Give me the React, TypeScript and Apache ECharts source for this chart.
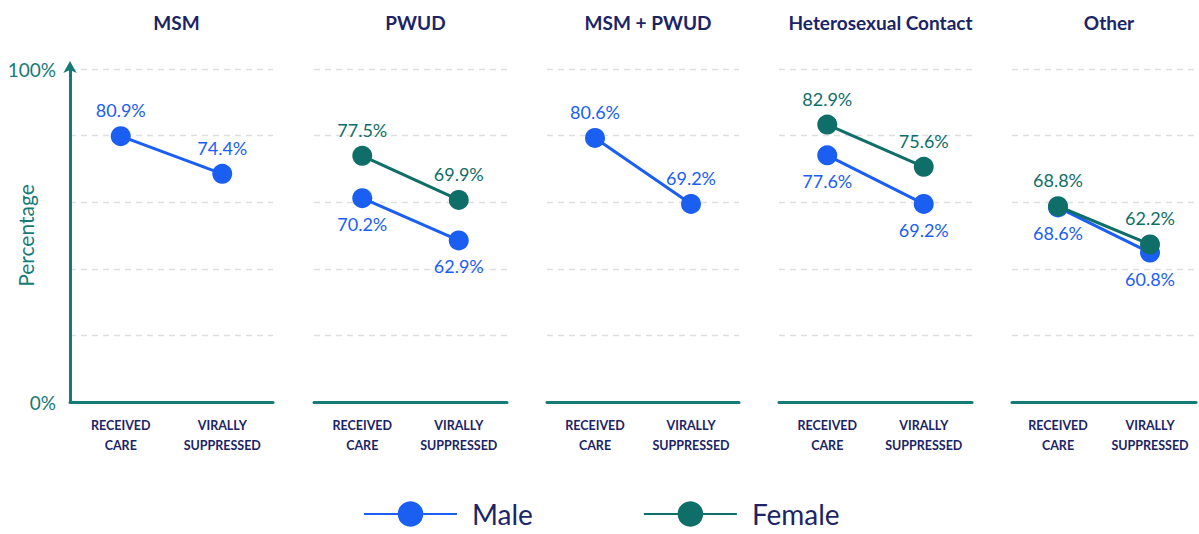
import React, { useEffect, useRef } from 'react';
import * as echarts from 'echarts';

// ---- data ----
const panelTitles = ['MSM', 'PWUD', 'MSM + PWUD', 'Heterosexual Contact', 'Other'];
const stages = ['RECEIVED\nCARE', 'VIRALLY\nSUPPRESSED'];
const maleMSM = [80.9, 74.4];
const malePWUD = [70.2, 62.9];
const maleMSMPWUD = [80.6, 69.2];
const maleHetero = [77.6, 69.2];
const maleOther = [68.6, 60.8];
const femalePWUD = [77.5, 69.9];
const femaleHetero = [82.9, 75.6];
const femaleOther = [68.8, 62.2];
const maleByPanel = [maleMSM, malePWUD, maleMSMPWUD, maleHetero, maleOther];
const femaleByPanel: (number[] | null)[] = [null, femalePWUD, null, femaleHetero, femaleOther];
const maleLabelBelow = [false, true, false, true, true];
const axisTickValues = [0, 100]; // only these carry labels

// ---- layout / style ----
const FONT = 'Lato, "Noto Sans", sans-serif';
const BLUE = '#1b5ef2';
const TEAL = '#0f6e68';
const AXIS_TEAL = '#167a78';
const NAVY = '#1b2466';
const GRID_TOP = 69;
const GRID_H = 333;
const panelBoxes = [
  { left: 70, width: 203 },
  { left: 314, width: 193 },
  { left: 547, width: 192 },
  { left: 779, width: 193 },
  { left: 1012, width: 184 },
];

export default function App() {
  const ref = useRef<HTMLDivElement>(null);
  useEffect(() => {
    document.body.style.margin = '0';
    const chart = echarts.init(ref.current!, null, { renderer: 'svg' });

    const grids = panelBoxes.map((b) => ({
      left: b.left,
      width: b.width,
      top: GRID_TOP,
      height: GRID_H,
      outerBoundsMode: 'none',
      containLabel: false,
    }));
    const titles = panelTitles.map((t, i) => ({
      text: t,
      left: panelBoxes[i].left + panelBoxes[i].width / 2,
      top: 8,
      textAlign: 'center',
      textStyle: { fontFamily: FONT, fontSize: 19, fontWeight: 'bold', color: NAVY },
    }));
    const xAxes = panelBoxes.map((_, i) => ({
      type: 'category',
      gridIndex: i,
      data: stages,
      axisLine: { show: true, lineStyle: { color: AXIS_TEAL, width: 3 } },
      axisTick: { show: false },
      axisLabel: {
        interval: 0,
        align: 'center',
        fontFamily: FONT,
        fontSize: 12.5,
        color: NAVY,
        lineHeight: 20,
        margin: 13,
        fontWeight: 'bold',
      },
    }));
    const yAxes: any[] = [];
    panelBoxes.forEach((_, i) => {
      yAxes.push({
        type: 'value',
        gridIndex: i,
        min: 0,
        max: 100,
        interval: 20,
        name: i === 0 ? 'Percentage' : '',
        nameLocation: 'middle',
        nameGap: 34,
        nameRotate: 90,
        nameMoveOverlap: false,
        nameTextStyle: { fontFamily: FONT, fontSize: 21, color: AXIS_TEAL },
        axisLine: {
          show: i === 0,
          symbol: ['none', 'arrow'],
          symbolSize: [10, 12],
          symbolOffset: [0, 8],
          lineStyle: { color: AXIS_TEAL, width: 3 },
        },
        axisTick: { show: false },
        axisLabel: {
          show: i === 0,
          margin: 14,
          fontFamily: FONT,
          fontSize: 19,
          color: AXIS_TEAL,
          formatter: (v: number) => (axisTickValues.includes(v) ? v + '%' : ''),
        },
        splitLine: { show: true, lineStyle: { color: '#dedede', type: [6, 5], width: 1.3 } },
      });
      yAxes.push({
        type: 'value',
        gridIndex: i,
        min: 35,
        max: 92.5,
        show: false,
        splitLine: { show: false },
      });
    });

    const mkSeries = (name: string, color: string, data: number[], i: number, below: boolean, z: number) => ({
      type: 'line',
      name,
      xAxisIndex: i,
      yAxisIndex: 2 * i + 1,
      data,
      symbol: 'circle',
      symbolSize: 20,
      z,
      lineStyle: { color, width: 3 },
      itemStyle: { color },
      label: {
        show: true,
        position: below ? 'bottom' : 'top',
        distance: 7,
        fontFamily: FONT,
        fontSize: 18,
        color,
        formatter: (p: any) => Number(p.value).toFixed(1) + '%',
      },
    });
    const series: any[] = [];
    panelBoxes.forEach((_, i) => {
      series.push(mkSeries('Male', BLUE, maleByPanel[i], i, maleLabelBelow[i], 2));
      const f = femaleByPanel[i];
      if (f) series.push(mkSeries('Female', TEAL, f, i, false, 3));
    });

    chart.setOption({
      animation: false,
      backgroundColor: '#ffffff',
      title: titles,
      grid: grids,
      xAxis: xAxes,
      yAxis: yAxes,
      legend: {
        data: ['Male', 'Female'],
        left: 358,
        top: 495,
        itemWidth: 93,
        itemHeight: 32,
        itemGap: 110,
        textStyle: { fontFamily: FONT, fontSize: 28, color: NAVY, padding: [0, 0, 0, 10] },
      },
      series,
    });
    return () => chart.dispose();
  }, []);
  return <div ref={ref} style={{ width: 1199, height: 534 }} />;
}
